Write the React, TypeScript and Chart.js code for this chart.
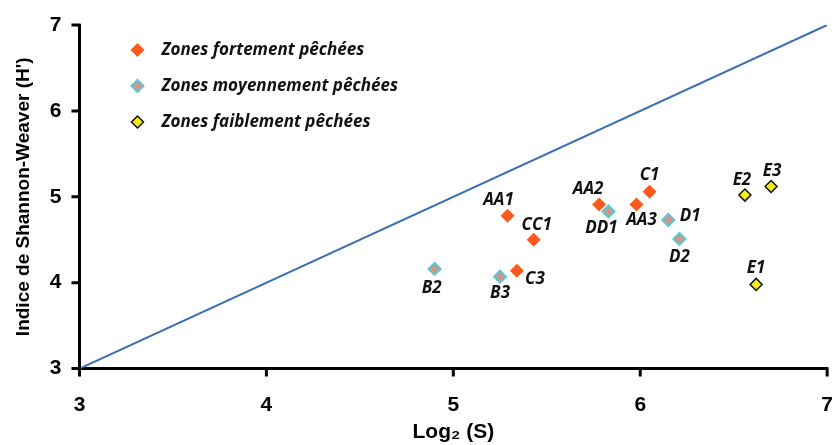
import React, { useEffect, useRef } from "react";
import { Chart, registerables } from "chart.js";

Chart.register(...registerables);

// ---- Data ----
const fortLabels = ["AA1", "CC1", "C3", "AA2", "AA3", "C1"];
const fortX = [5.29, 5.43, 5.34, 5.78, 5.98, 6.05];
const fortY = [4.78, 4.5, 4.14, 4.91, 4.91, 5.06];

const moyLabels = ["B2", "B3", "DD1", "D1", "D2"];
const moyX = [4.9, 5.25, 5.83, 6.15, 6.21];
const moyY = [4.16, 4.07, 4.83, 4.73, 4.51];

const faibLabels = ["E1", "E2", "E3"];
const faibX = [6.62, 6.56, 6.7];
const faibY = [3.98, 5.02, 5.12];

const refLineX = [3, 7];
const refLineY = [3, 7];

const seriesNames = [
  "Zones fortement pêchées",
  "Zones moyennement pêchées",
  "Zones faiblement pêchées",
];
const axisMin = 3;
const axisMax = 7;
const tickStep = 1;

// ---- Style: label offsets (pixels) ----
const labelOffsets: Record<string, [number, number]> = {
  AA1: [-9, -16],
  CC1: [3, -15],
  C3: [18, 8],
  AA2: [-11, -15],
  AA3: [5, 16],
  C1: [0, -16],
  B2: [-3, 19],
  B3: [0, 16],
  DD1: [-7, 17],
  D1: [22, -4],
  D2: [0, 18],
  E1: [0, -16],
  E2: [-3, -15],
  E3: [1, -15],
};

const LABEL_FONT = "italic bold 17px 'Open Sans', 'DejaVu Sans', sans-serif";
const AXIS_FONT_FAMILY = "'Liberation Sans', Arial, sans-serif";

const toPts = (xs: number[], ys: number[]) => xs.map((x, i) => ({ x, y: ys[i] }));

const pointLabelPlugin = {
  id: "pointLabels",
  afterDatasetsDraw(chart: any) {
    const ctx = chart.ctx;
    ctx.save();
    ctx.font = LABEL_FONT;
    ctx.fillStyle = "#111";
    ctx.textAlign = "center";
    ctx.textBaseline = "middle";
    chart.data.datasets.forEach((ds: any, di: number) => {
      if (!ds.pointNames) return;
      const meta = chart.getDatasetMeta(di);
      meta.data.forEach((el: any, i: number) => {
        const name = ds.pointNames[i];
        const off = labelOffsets[name] || [0, -14];
        ctx.fillText(name, el.x + off[0], el.y + off[1]);
      });
    });
    ctx.restore();
  },
};

// outside tick marks along both axes, at the scale's own tick positions
const tickMarkPlugin = {
  id: "tickMarks",
  afterDraw(chart: any) {
    const ctx = chart.ctx;
    const a = chart.chartArea;
    const xs = chart.scales.x;
    const ys = chart.scales.y;
    ctx.save();
    ctx.strokeStyle = "#000";
    ctx.lineWidth = 3;
    ctx.beginPath();
    xs.ticks.forEach((t: any) => {
      const px = xs.getPixelForValue(t.value);
      ctx.moveTo(px, a.bottom - 1);
      ctx.lineTo(px, a.bottom + 8);
    });
    ys.ticks.forEach((t: any) => {
      const py = ys.getPixelForValue(t.value);
      ctx.moveTo(a.left + 1, py);
      ctx.lineTo(a.left - 8, py);
    });
    ctx.stroke();
    ctx.restore();
  },
};

const legendPlugin = {
  id: "insideLegend",
  afterDraw(chart: any) {
    const ctx = chart.ctx;
    const area = chart.chartArea;
    const x0 = area.left + 58;
    const y0 = area.top + 25;
    const gap = 36;
    ctx.save();
    let row = 0;
    chart.data.datasets.forEach((ds: any) => {
      if (!ds.pointNames) return;
      const y = y0 + row * gap;
      const r = ds.pointRadius;
      ctx.beginPath();
      ctx.moveTo(x0, y - r);
      ctx.lineTo(x0 + r, y);
      ctx.lineTo(x0, y + r);
      ctx.lineTo(x0 - r, y);
      ctx.closePath();
      ctx.fillStyle = ds.backgroundColor;
      ctx.fill();
      if (ds.borderWidth > 0) {
        ctx.lineWidth = ds.borderWidth;
        ctx.strokeStyle = ds.borderColor;
        ctx.stroke();
      }
      ctx.font = LABEL_FONT;
      ctx.fillStyle = "#111";
      ctx.textAlign = "left";
      ctx.textBaseline = "middle";
      ctx.fillText(ds.label, x0 + 24, y);
      row++;
    });
    ctx.restore();
  },
};

const axisBase = (titleText: string, tickPad: number, titlePad: any, titleSize: number) => ({
  type: "linear",
  min: axisMin,
  max: axisMax,
  border: { display: true, color: "#000", width: 3 },
  grid: {
    display: true,
    drawOnChartArea: false,
    drawTicks: true,
    tickLength: 7,
    color: "#000",
    tickColor: "#000",
    tickWidth: 2,
    lineWidth: 2,
  },
  ticks: {
    stepSize: tickStep,
    color: "#000",
    padding: tickPad,
    font: { family: AXIS_FONT_FAMILY, size: 21, weight: "bold" },
  },
  title: {
    display: true,
    text: titleText,
    color: "#000",
    padding: titlePad,
    font: { family: AXIS_FONT_FAMILY, size: titleSize, weight: "bold" },
  },
});

export default function App() {
  const canvasRef = useRef<HTMLCanvasElement>(null);

  useEffect(() => {
    document.body.style.margin = "0";
    const canvas = canvasRef.current;
    if (!canvas) return;
    const chart = new Chart(canvas, {
      type: "scatter",
      data: {
        datasets: [
          {
            type: "line",
            label: "ref",
            data: toPts(refLineX, refLineY),
            borderColor: "#3a6db3",
            borderWidth: 2,
            pointRadius: 0,
            fill: false,
          } as any,
          {
            label: seriesNames[0],
            data: toPts(fortX, fortY),
            pointNames: fortLabels,
            pointStyle: "rectRot",
            pointRadius: 7,
            backgroundColor: "#fb5a1e",
            borderColor: "#fb5a1e",
            borderWidth: 0,
          } as any,
          {
            label: seriesNames[1],
            data: toPts(moyX, moyY),
            pointNames: moyLabels,
            pointStyle: "rectRot",
            pointRadius: 6,
            backgroundColor: "#d3978a",
            borderColor: "#5cc6d3",
            borderWidth: 2,
          } as any,
          {
            label: seriesNames[2],
            data: toPts(faibX, faibY),
            pointNames: faibLabels,
            pointStyle: "rectRot",
            pointRadius: 6,
            backgroundColor: "#f5ec1c",
            borderColor: "#111",
            borderWidth: 1.5,
          } as any,
        ],
      },
      options: {
        responsive: false,
        animation: false,
        layout: { padding: { top: 25, right: 21, left: 12, bottom: 0 } },
        plugins: {
          legend: { display: false },
          tooltip: { enabled: false },
        },
        scales: {
          x: axisBase("Log₂ (S)", 17, { top: -15, bottom: 0 }, 21),
          y: axisBase("Indice de Shannon-Weaver (H')", 11, { top: 0, bottom: 4 }, 19),
        },
      } as any,
      plugins: [pointLabelPlugin, legendPlugin, tickMarkPlugin],
    });
    return () => chart.destroy();
  }, []);

  return (
    <div
      style={{
        position: "absolute",
        left: 0,
        top: 0,
        width: 833,
        height: 445,
        overflow: "hidden",
        background: "#fff",
      }}
    >
      <canvas ref={canvasRef} width={850} height={445} />
    </div>
  );
}
